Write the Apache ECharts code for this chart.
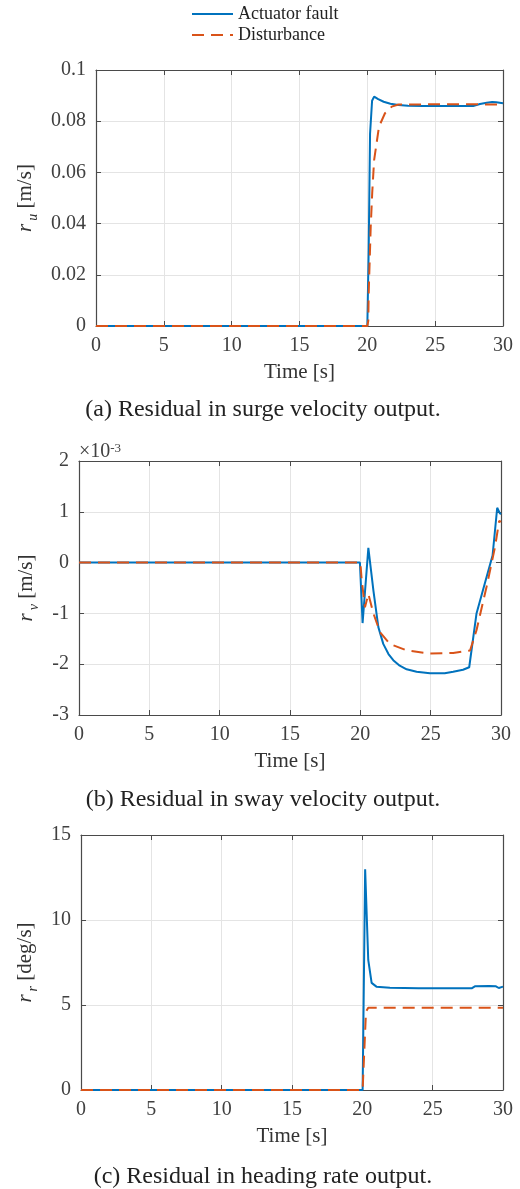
<!DOCTYPE html>
<html>
<head>
<meta charset="utf-8">
<script src="https://cdn.jsdelivr.net/npm/echarts@6/dist/echarts.min.js"></script>
<style>
  html, body { margin: 0; padding: 0; background: #fff; }
  #residualChart { width: 520px; height: 1189px; }
</style>
</head>
<body>
<div id="residualChart"></div>
<script>
// x axis ticks (Time [s])
var timeTicks = [0, 5, 10, 15, 20, 25, 30];

// (a) surge velocity residual r_u [m/s]
var uFaultTime = [0, 20.0, 20.1, 20.2, 20.35, 20.5, 20.8, 21.2, 21.7, 22.3, 23.0, 24.1, 26.0, 27.8, 28.3, 28.8, 29.2, 29.5, 30];
var uFault = [0, 0, 0.03, 0.075, 0.088, 0.0896, 0.0886, 0.0876, 0.0868, 0.0863, 0.0860, 0.0859, 0.0859, 0.0859, 0.0867, 0.0872, 0.0875, 0.0874, 0.0870];
var uDistTime = [0, 20.0, 20.07, 20.1, 20.25, 20.36, 20.5, 20.86, 21.3, 21.8, 22.3, 25.0, 28.0, 30];
var uDist = [0, 0, 0.002, 0.0128, 0.0388, 0.052, 0.0648, 0.0779, 0.0831, 0.0857, 0.0865, 0.0866, 0.0866, 0.0865];

// (b) sway velocity residual r_v [m/s], values in units of 1e-3
var vFaultTime = [0, 19.97, 20.16, 20.57, 20.93, 21.28, 21.63, 22.0, 22.34, 22.8, 23.29, 24.0, 24.95, 26.0, 26.6, 27.3, 27.74, 28.26, 28.97, 29.4, 29.73, 29.92, 30];
var vFault = [0, 0, -1.19, 0.29, -0.55, -1.27, -1.6, -1.8, -1.92, -2.03, -2.1, -2.15, -2.18, -2.18, -2.15, -2.11, -2.06, -1.0, -0.29, 0.14, 1.08, 0.97, 0.95];
var vDistTime = [0, 20.0, 20.1, 20.33, 20.57, 20.93, 21.4, 22.1, 23.3, 24.95, 26.6, 27.8, 28.26, 28.97, 29.57, 29.87, 30];
var vDist = [0, 0, -0.35, -0.88, -0.62, -1.0, -1.37, -1.6, -1.73, -1.79, -1.78, -1.73, -1.33, -0.48, 0.3, 0.82, 0.8];

// (c) heading rate residual r_r [deg/s]
var rFaultTime = [0, 20.02, 20.2, 20.42, 20.66, 21.0, 21.96, 24.0, 27.77, 28.0, 29.0, 29.5, 29.7, 30];
var rFault = [0, 0, 12.98, 7.65, 6.3, 6.08, 6.02, 5.98, 5.98, 6.1, 6.12, 6.1, 6.0, 6.08];
var rDistTime = [0, 20.02, 20.26, 20.42, 30];
var rDist = [0, 0, 4.6, 4.84, 4.84];

var captions = ['(a) Residual in surge velocity output.', '(b) Residual in sway velocity output.', '(c) Residual in heading rate output.'];

var serif = "'Liberation Serif', 'Times New Roman', serif";
var axisColor = '#4a4a4a';
var gridColor = '#e4e4e4';
var blue = '#0072BD';
var red = '#D95319';

function pairs(ts, vs) {
  return ts.map(function (t, i) { return [t, vs[i]]; });
}

var grids = [
  { left: 96, top: 70, width: 407, height: 256 },
  { left: 79, top: 461, width: 422, height: 254 },
  { left: 81, top: 835, width: 422, height: 255 }
];

var yScales = [
  { min: 0, max: 0.1, interval: 0.02, name: '{i|r}{s|u}{t| [m/s]}', gap: 50 },
  { min: -3, max: 2, interval: 1, name: '{i|r}{s|v}{t| [m/s]}', gap: 34 },
  { min: 0, max: 15, interval: 5, name: '{i|r}{s|r}{t| [deg/s]}', gap: 36 }
];

var boxLine = { show: true, onZero: false, lineStyle: { color: axisColor, width: 1.2 } };
var boxTick = { show: true, inside: true, length: 5, lineStyle: { color: axisColor } };

var xAxes = [], yAxes = [];
grids.forEach(function (g, k) {
  // bottom axis with labels
  xAxes.push({
    type: 'value', gridIndex: k, position: 'bottom', min: 0, max: 30, interval: 5,
    name: 'Time [s]', nameLocation: 'middle', nameGap: 36,
    nameTextStyle: { fontFamily: serif, fontSize: 21, color: '#333' },
    axisLine: boxLine,
    axisTick: boxTick,
    axisLabel: { fontFamily: serif, fontSize: 20, color: '#404040', margin: 10 },
    splitLine: { show: true, lineStyle: { color: gridColor, width: 1 } }
  });
  // top box edge
  xAxes.push({
    type: 'value', gridIndex: k, position: 'top', min: 0, max: 30, interval: 5,
    axisLine: boxLine,
    axisTick: boxTick,
    axisLabel: { show: false },
    splitLine: { show: false }
  });
  var ys = yScales[k];
  yAxes.push({
    type: 'value', gridIndex: k, position: 'left', min: ys.min, max: ys.max, interval: ys.interval,
    name: ys.name, nameLocation: 'middle', nameGap: ys.gap,
    nameTextStyle: {
      color: '#333',
      rich: {
        i: { fontFamily: serif, fontStyle: 'italic', fontSize: 21, lineHeight: 30 },
        s: { fontFamily: serif, fontStyle: 'italic', fontSize: 14, verticalAlign: 'bottom', lineHeight: 14, padding: [0, 0, 0, 3] },
        t: { fontFamily: serif, fontSize: 21, lineHeight: 30 }
      }
    },
    axisLine: boxLine,
    axisTick: boxTick,
    axisLabel: { fontFamily: serif, fontSize: 20, color: '#404040', margin: 10 },
    splitLine: { show: true, lineStyle: { color: gridColor, width: 1 } }
  });
  // right box edge
  yAxes.push({
    type: 'value', gridIndex: k, position: 'right', min: ys.min, max: ys.max, interval: ys.interval,
    axisLine: boxLine,
    axisTick: boxTick,
    axisLabel: { show: false },
    splitLine: { show: false }
  });
});

var panelData = [
  [pairs(uFaultTime, uFault), pairs(uDistTime, uDist)],
  [pairs(vFaultTime, vFault), pairs(vDistTime, vDist)],
  [pairs(rFaultTime, rFault), pairs(rDistTime, rDist)]
];

var series = [];
panelData.forEach(function (pd, k) {
  series.push({
    name: 'Actuator fault', type: 'line', xAxisIndex: 2 * k, yAxisIndex: 2 * k,
    data: pd[0], symbol: 'none', smooth: false, animation: false,
    lineStyle: { color: blue, width: 2 }, itemStyle: { color: blue }
  });
  series.push({
    name: 'Disturbance', type: 'line', xAxisIndex: 2 * k, yAxisIndex: 2 * k,
    data: pd[1], symbol: 'none', smooth: false, animation: false,
    lineStyle: { color: red, width: 2, type: [12, 7] }, itemStyle: { color: red }
  });
});

var captionY = [410, 800, 1177];
var graphics = captions.map(function (c, k) {
  return {
    type: 'text', x: 263, y: captionY[k],
    style: { text: c, fontFamily: serif, fontSize: 24, fill: '#222', textAlign: 'center', textVerticalAlign: 'middle' }
  };
});
// exponent label of panel (b)
graphics.push({
  type: 'text', x: 79, y: 442,
  style: {
    text: '×10{sup|-3}', fontFamily: serif, fontSize: 20, fill: '#404040',
    rich: { sup: { fontFamily: serif, fontSize: 13, verticalAlign: 'top', lineHeight: 12 } }
  }
});

var chart = echarts.init(document.getElementById('residualChart'));
chart.setOption({
  animation: false,
  backgroundColor: '#fff',
  legend: {
    data: ['Actuator fault', 'Disturbance'],
    orient: 'vertical', left: 191, top: 5, padding: 0,
    itemWidth: 41, itemHeight: 18, itemGap: 3,
    itemStyle: { opacity: 0 },
    textStyle: { fontFamily: serif, fontSize: 18, color: '#222' }
  },
  grid: grids,
  xAxis: xAxes,
  yAxis: yAxes,
  series: series,
  graphic: graphics
});
</script>
</body>
</html>
